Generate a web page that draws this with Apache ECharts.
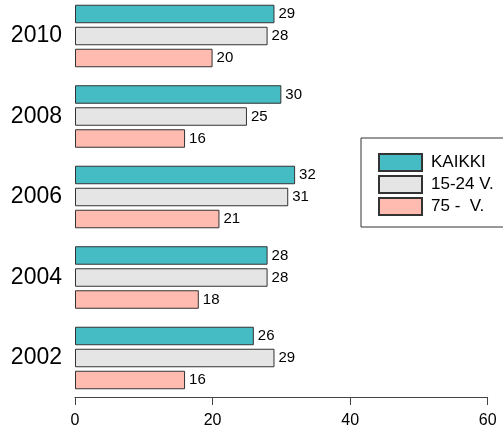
<!DOCTYPE html>
<html>
<head>
<meta charset="utf-8">
<script src="https://cdn.jsdelivr.net/npm/echarts@6/dist/echarts.min.js"></script>
<style>
  html, body { margin: 0; padding: 0; background: #fff; }
  #chart { width: 503px; height: 434px; }
</style>
</head>
<body>
<div id="chart"></div>
<script>
// Years, bottom to top
const years = ['2002', '2004', '2006', '2008', '2010'];
// Shares per age group, same order as years
const kaikki = [26, 28, 32, 30, 29];
const nuoret = [29, 28, 31, 25, 28];
const vanhat = [16, 18, 21, 16, 20];
const xTicks = [0, 20, 40, 60];

const FONT = 'Liberation Sans, Arial, sans-serif';
const BORDER = '#333';

function barSeries(name, data, color) {
  return {
    name: name,
    type: 'bar',
    data: data,
    barWidth: 18.5,
    barGap: '19%',
    itemStyle: { color: color, borderColor: BORDER, borderWidth: 1 },
    label: {
      show: true,
      position: 'right',
      distance: 4,
      color: '#000',
      fontFamily: FONT,
      fontSize: 15
    },
    emphasis: { disabled: true }
  };
}

const chart = echarts.init(document.getElementById('chart'), null, { renderer: 'canvas' });
chart.setOption({
  animation: false,
  backgroundColor: '#fff',
  // category points sit on the grid edges; the value axis is pushed below
  grid: { left: 75, right: 15.3, top: 36, bottom: 76, containLabel: false },
  xAxis: {
    type: 'value',
    min: xTicks[0],
    max: xTicks[xTicks.length - 1],
    interval: 20,
    offset: 39,
    splitLine: { show: false },
    axisLine: { show: true, lineStyle: { color: '#444', width: 1 } },
    axisTick: { show: true, length: 8, lineStyle: { color: '#444' } },
    axisLabel: { color: '#000', fontFamily: FONT, fontSize: 16, margin: 16 }
  },
  yAxis: {
    type: 'category',
    data: years,
    boundaryGap: false,
    axisLine: { show: false },
    axisTick: { show: false },
    axisLabel: { color: '#000', fontFamily: FONT, fontSize: 23, margin: 13 }
  },
  legend: {
    data: ['KAIKKI', '15-24 V.', '75 -  V.'],
    orient: 'vertical',
    left: 378,
    top: 153,
    padding: 0,
    itemWidth: 43,
    itemHeight: 17,
    itemGap: 3,
    icon: 'rect',
    textStyle: { color: '#000', fontFamily: FONT, fontSize: 17, padding: [0, 0, 0, 4] },
    selectedMode: false
  },
  graphic: [{
    type: 'rect',
    shape: { x: 361, y: 138, width: 260, height: 89 },
    style: { fill: 'none', stroke: '#333', lineWidth: 1 },
    silent: true
  }],
  series: [
    barSeries('KAIKKI', kaikki, '#45BCC4'),
    barSeries('15-24 V.', nuoret, '#E5E5E5'),
    barSeries('75 -  V.', vanhat, '#FFBBAF')
  ]
});
</script>
</body>
</html>
